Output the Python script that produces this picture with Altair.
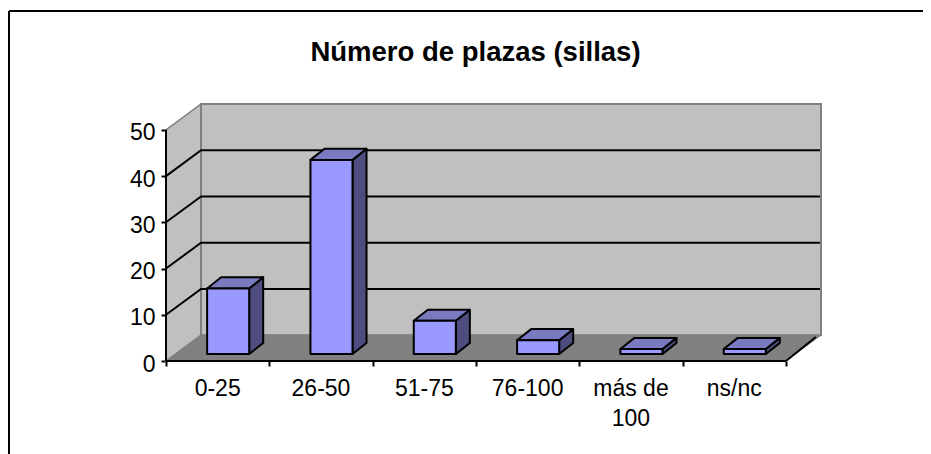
import altair as alt
import pandas as pd

categories = ["0-25", "26-50", "51-75", "76-100", "más de\n100", "ns/nc"]
values = [14.2, 42, 7.2, 3, 1.1, 1.1]
y_ticks = [0, 10, 20, 30, 40, 50]
grid_values = [10, 20, 30, 40]
chart_title = "Número de plazas (sillas)"

# layout of the box
N = len(categories)
PX_X = 103.2         # px per category
PX_Y = 4.65          # px per unit
DX = 35 / PX_X       # wall depth, in x units
DV = 26 / PX_Y       # wall depth, in y units
BAR_OFF, BAR_W = 0.398, 0.407
BAR_DX, BAR_DV = 14 / PX_X, 2.4
BAR_BASE = 1.5
PLOT_W = 655
PLOT_H = 257

X = alt.Scale(domain=[0, N + DX], nice=False, zero=False)
Y = alt.Scale(domain=[0, 50 + DV], nice=False, zero=False)
AX = alt.Axis(
    values=list(range(N + 1)), domain=False, grid=False, labels=False, tickColor="#000000",
    tickSize=5, tickWidth=2, title=None)
AY = alt.Axis(
    values=y_ticks, domain=False, grid=False, tickColor="#000000", tickSize=5, tickWidth=2,
    labelFont="Liberation Sans", labelFontSize=23, labelColor="#000000", labelPadding=6,
    labelOffset=3, title=None)


def qx(f="x"):
    return alt.X(f"{f}:Q", scale=X, axis=AX)


def qy(f="y"):
    return alt.Y(f"{f}:Q", scale=Y, axis=AY)


left_wall = pd.DataFrame({"x": [0, DX], "y": [0, DV], "y2": [50, 50 + DV]})
back_wall = pd.DataFrame({"x": [DX], "x2": [N + DX], "y": [DV], "y2": [50 + DV]})
floor = pd.DataFrame({"y": [0, DV], "x": [0, DX], "x2": [N, N + DX]})

WALL = "#c0c0c0"
EDGE = "#808080"
layers = [
    alt.Chart(left_wall).mark_area(orient="vertical", fill=WALL, stroke=EDGE, strokeWidth=1.5).encode(
        x=qx(), y=qy(), y2="y2:Q"),
    alt.Chart(back_wall).mark_rect(fill=WALL, stroke=EDGE, strokeWidth=2).encode(
        x=qx(), x2="x2:Q", y=qy(), y2="y2:Q"),
    alt.Chart(floor).mark_area(orient="horizontal", fill=EDGE, stroke=EDGE, strokeWidth=1).encode(
        y=qy(), x=qx(), x2="x2:Q"),
]

# gridlines: up the side wall, then across the back wall
rows = []
for v in grid_values:
    rows += [
        {"g": v, "o": 0, "x": 0, "y": v},
        {"g": v, "o": 1, "x": DX, "y": v + DV},
        {"g": v, "o": 2, "x": N + DX - 0.01, "y": v + DV},
    ]
rows += [{"g": 99, "o": 0, "x": N, "y": 0}, {"g": 99, "o": 1, "x": N + DX - 0.05, "y": DV - 0.4}]
layers.append(
    alt.Chart(pd.DataFrame(rows)).mark_line(color="#000000", strokeWidth=2).encode(
        x=qx(), y=qy(), detail="g:N", order="o:Q")
)

# axis lines on the box front
axis_lines = pd.DataFrame({
    "g": [0, 0, 1, 1], "o": [0, 1, 0, 1],
    "x": [0, 0, 0, N], "y": [50, 0, 0, 0],
})
layers.append(
    alt.Chart(axis_lines).mark_line(color="#000000", strokeWidth=2).encode(
        x=qx(), y=qy(), detail="g:N", order="o:Q"),
)

# bars: front, top and side faces
front, top, side = [], [], []
for i, v in enumerate(values):
    x0 = i + BAR_OFF
    x1 = x0 + BAR_W
    y0 = BAR_BASE
    y1 = BAR_BASE + v
    front.append({"x": x0, "x2": x1, "y": y0, "y2": y1})
    top += [
        {"b": i, "y": y1, "x": x0, "x2": x1},
        {"b": i, "y": y1 + BAR_DV, "x": x0 + BAR_DX, "x2": x1 + BAR_DX},
    ]
    side += [
        {"b": i, "x": x1, "y": y0, "y2": y1},
        {"b": i, "x": x1 + BAR_DX, "y": y0 + BAR_DV, "y2": y1 + BAR_DV},
    ]

STROKE = dict(stroke="#000000", strokeWidth=2, strokeJoin="round")
layers += [
    alt.Chart(pd.DataFrame(side)).mark_area(orient="vertical", fill="#4d4d80", **STROKE).encode(
        x=qx(), y=qy(), y2="y2:Q", detail="b:N"),
    alt.Chart(pd.DataFrame(top)).mark_area(orient="horizontal", fill="#7a7ac0", **STROKE).encode(
        y=qy(), x=qx(), x2="x2:Q", detail="b:N"),
    alt.Chart(pd.DataFrame(front)).mark_rect(fill="#9999ff", **STROKE).encode(
        x=qx(), x2="x2:Q", y=qy(), y2="y2:Q"),
]

# category labels
labels = pd.DataFrame({"label": categories, "x": [i + 0.5 for i in range(N)]})
layers.append(
    alt.Chart(labels).mark_text(
        font="Liberation Sans", fontSize=23, color="#000000", align="center", baseline="top",
        lineBreak="\n", lineHeight=30,
    ).encode(x=qx(), y=alt.value(PLOT_H + 17), text="label:N")
)

# outer frame: runs off the right and bottom of the picture
frame = pd.DataFrame({"k": [0]})
layers += [
    alt.Chart(frame).mark_rule(color="#000000", strokeWidth=2).encode(
        x=alt.value(-157), x2=alt.value(PLOT_W + 102), y=alt.value(-93)),
    alt.Chart(frame).mark_rule(color="#000000", strokeWidth=2).encode(
        x=alt.value(-157), y=alt.value(-93), y2=alt.value(350)),
]

chart = alt.layer(*layers).properties(
    width=PLOT_W,
    height=PLOT_H,
    title=alt.TitleParams(
        chart_title, font="Liberation Sans", fontSize=27.5, fontWeight="bold", color="#000000",
        anchor="middle", dx=-18, offset=-56),
    autosize=alt.AutoSizeParams(type="none"),
    padding={"left": 158, "top": 96, "right": 102, "bottom": 93},
    background="#ffffff",
).configure_view(stroke=None)

chart.save("out.html", embed_options={"renderer": "svg", "actions": False})
